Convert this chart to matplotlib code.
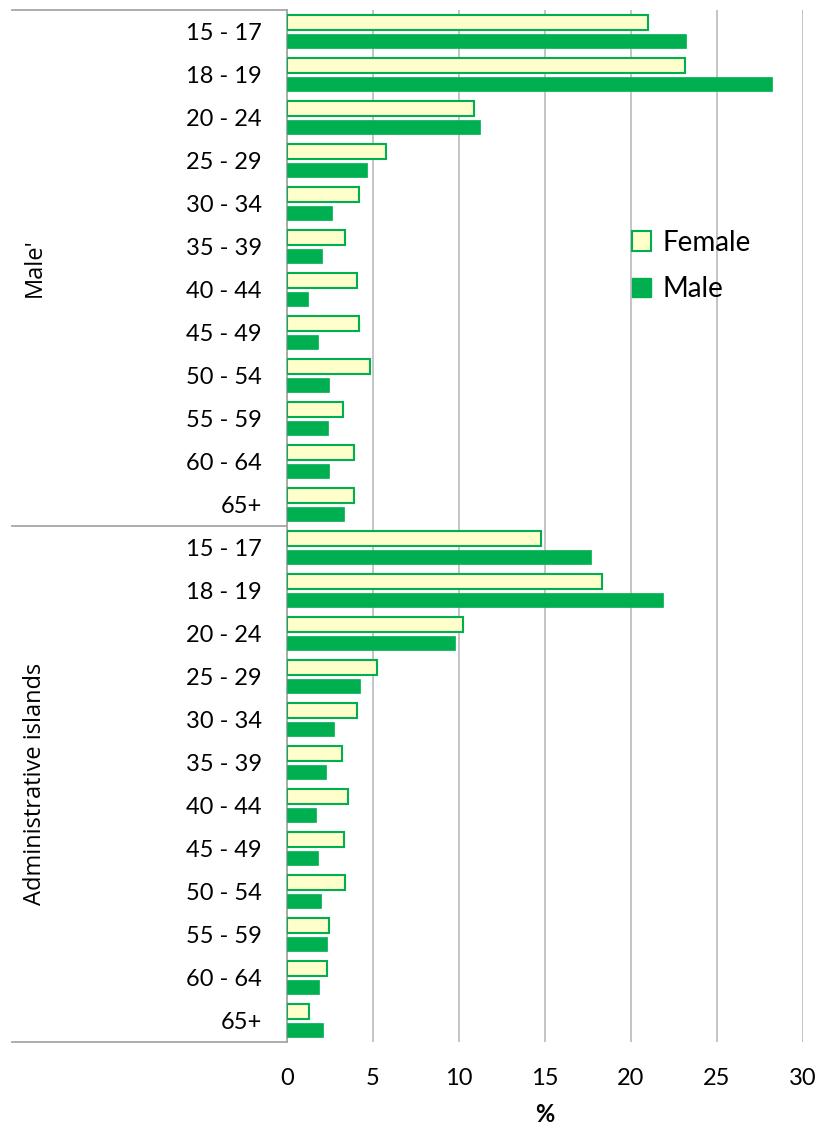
import matplotlib
matplotlib.use("Agg")
import matplotlib.pyplot as plt
import matplotlib.transforms as mtransforms
from matplotlib.patches import Patch
import numpy as np

ages = ["15 - 17", "18 - 19", "20 - 24", "25 - 29", "30 - 34", "35 - 39",
        "40 - 44", "45 - 49", "50 - 54", "55 - 59", "60 - 64", "65+"]
groups = ["Male'", "Administrative islands"]

female_male_capital = [21.0, 23.15, 10.9, 5.75, 4.2, 3.35, 4.05, 4.2, 4.8, 3.25, 3.9, 3.9]
male_male_capital = [23.2, 28.2, 11.2, 4.65, 2.6, 2.05, 1.2, 1.8, 2.45, 2.4, 2.45, 3.3]
female_islands = [14.75, 18.3, 10.25, 5.25, 4.05, 3.2, 3.55, 3.3, 3.4, 2.45, 2.35, 1.3]
male_islands = [17.7, 21.85, 9.75, 4.25, 2.75, 2.25, 1.7, 1.8, 2.0, 2.35, 1.85, 2.1]

female = female_male_capital + female_islands
male = male_male_capital + male_islands
labels = ages + ages

GREEN = "#00B050"
CREAM = "#FFFFCC"
GRID = "#BFBFBF"
LABEL_FONT = ["Lato", "DejaVu Sans"]
GROUP_FONT = ["Open Sans", "DejaVu Sans"]

fig = plt.figure(figsize=(8.18, 11.29), dpi=100)
ax = fig.add_axes([287 / 818, 1 - 1042 / 1129, 516 / 818, 1032 / 1129])

n = len(labels)
y = np.arange(n)
bh = 0.34
ax.barh(y - 0.21, female, height=bh, color=CREAM, edgecolor=GREEN, linewidth=1.5,
        label="Female", zorder=3)
ax.barh(y + 0.22, male, height=bh, color=GREEN, edgecolor=GREEN, linewidth=0.5,
        label="Male", zorder=3)

ax.set_ylim(n - 0.5, -0.5)
ax.set_xlim(0, 30)
ax.set_xticks(range(0, 31, 5))
ax.set_yticks(y)
ax.set_yticklabels(labels, family=LABEL_FONT, fontsize=17)
for t in ax.get_xticklabels():
    t.set_family(LABEL_FONT)
    t.set_fontsize(17)
ax.tick_params(axis="y", length=0, pad=18)
ax.tick_params(axis="x", length=0, pad=19)
ax.grid(axis="x", color=GRID, linewidth=1.3, zorder=0)
for s in ["top", "right", "bottom"]:
    ax.spines[s].set_visible(False)
ax.spines["left"].set_color("#A6A6A6")
ax.spines["left"].set_linewidth(1.3)
ax.set_xlabel("%", family=LABEL_FONT, fontsize=17, fontweight="bold", labelpad=10)

# multi-level category axis on the left
trans = mtransforms.blended_transform_factory(fig.transFigure, ax.transData)
x0 = 12 / 818
x1 = 287 / 818
for yy in [-0.5, 11.5, n - 0.5]:
    ax.plot([x0, x1], [yy, yy], transform=trans, color="#A6A6A6", linewidth=1.3,
            clip_on=False)
for gi, g in enumerate(groups):
    fig.text(35 / 818, gi * 12 + 5.5, g, transform=trans, rotation=90,
             ha="center", va="center", family=GROUP_FONT, fontsize=17)

handles = [Patch(facecolor=CREAM, edgecolor=GREEN, linewidth=1.5),
           Patch(facecolor=GREEN, edgecolor=GREEN)]
fig.legend(handles, ["Female", "Male"], loc="center left",
           bbox_to_anchor=(0.742, 1 - 266 / 1129), frameon=False,
           prop={"family": LABEL_FONT, "size": 20},
           handlelength=0.7, handleheight=0.7, handletextpad=0.4, labelspacing=0.75)

fig.savefig("out.png", dpi=100)
